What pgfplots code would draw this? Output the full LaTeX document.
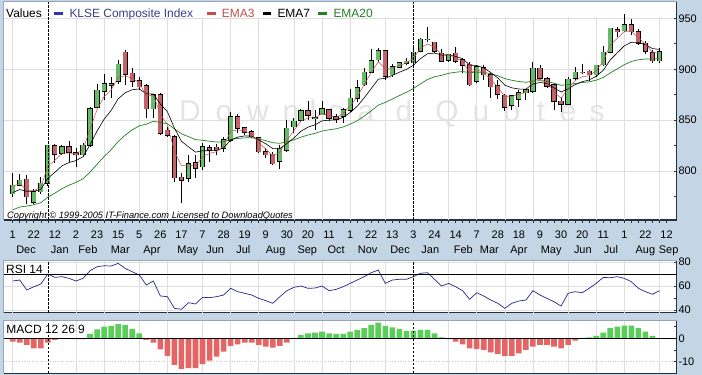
\documentclass[border=0pt]{standalone}
\usepackage{fontspec}
\setmainfont{Liberation Sans}
\usepackage{pgfplots}
\usepackage{pgfplotstable}
\pgfplotsset{compat=1.18}

\definecolor{bgblue}{RGB}{196,214,230}
\definecolor{gridgray}{RGB}{222,222,222}
\definecolor{framedark}{RGB}{40,48,64}
\definecolor{framelight}{RGB}{150,165,185}
\definecolor{candlegreen}{RGB}{102,187,102}
\definecolor{candlered}{RGB}{196,98,104}
\definecolor{emared}{RGB}{192,80,80}
\definecolor{emagreen}{RGB}{34,130,34}
\definecolor{macdgreen}{RGB}{90,205,90}
\definecolor{macdred}{RGB}{230,100,100}
\definecolor{rsiblue}{RGB}{40,40,140}
\definecolor{legblue}{RGB}{51,51,170}
\definecolor{legbluetext}{RGB}{60,60,140}
\definecolor{wmgray}{RGB}{228,228,228}

\pgfplotstableread{
i o h l c
0 778 798 775 786
1 786 797 785 791
3 769.5 783 768 780
4 780 794.5 778 788
5 788 826 785 825.5
7 817.5 825.6 815.8 824
10 816 827.3 814.2 825.5
11 825.5 863.2 824 861.5
12 863 886 861.6 879.5
13 878.5 895 869.8 886
14 884.5 892.7 871.4 885.5
15 888 909 886 905
20 861.5 875.3 851.8 875
25 793 815.8 789.6 807.5
27 804.5 827.3 801.1 824
30 822.5 833.8 819 830.5
31 830.5 857.7 828.9 853.5
38 809.5 825.6 802.1 822.5
39 820.5 850.2 819 842
40 843.5 851.8 837.1 849
41 850 860.6 848.5 859
43 852 860 840.3 852.5
44 855.5 868.8 855 861
47 854 862.3 846.9 860.5
48 860 880.6 858.3 871.5
49 871.5 889.4 867.5 882
50 885 900.9 883.9 897
51 897 919.5 896 908.5
52 909.5 920.5 907.4 918
54 894.5 904.8 892.7 902.5
55 902 907.4 900.9 906.5
56 906 910.7 904.1 908
57 906.5 920.5 904.1 916.5
58 918 930.3 916.6 929.5
59 929 941.5 927 929.5
62 909 914.6 907.4 914.5
66 888 904.1 886.1 902.5
71 865 874.6 859.8 874
72 870.5 879.5 863.1 877
73 877 881.1 870.3 880
74 878.5 906.7 876.9 901
79 865.5 892.6 864.8 890
80 891 902.5 889.3 897
83 894.5 904.1 892 904
84 904.5 922.8 903.4 916.5
85 917 940.2 915.6 940
87 938 954.3 936.2 943.5
92 908.5 920.5 906.4 917
}\upcandles

\pgfplotstableread{
i o h l c
2 792 796 768 775
6 825 827 807.6 816.5
8 824 830 809.3 818.5
9 818 822.4 804.4 816
16 916.5 919 884.5 895
17 896 901 883 888.5
18 888.5 892.7 879.6 883
19 883.5 886 851.8 861.5
21 875 876.3 835.4 837
22 840 843.6 833.8 835.5
23 834 835.4 789.6 793.5
24 794 797.8 768.4 791
26 808.5 815.8 792.9 803
28 823 825.6 809.3 820.5
29 823.5 827 815.8 821
32 853.5 855.7 837.1 842
33 842.5 843.6 835.4 838
34 838.5 840.3 832.2 834
35 833 833.8 817.5 819
36 819 823 813.2 816
37 816.5 819 806 807.5
42 859 868.8 850.2 855
45 860.5 861 849.2 852
46 853.5 855.7 846.9 851
53 918 918.9 889.4 893.5
60 926.5 927 915.6 918
61 915.5 919.8 907.4 908
63 915.5 922 905.8 908
64 909 910.7 896 904
65 905 907.4 883.9 885
67 901.5 904.1 889.4 894.5
68 894.5 896 871.4 883
69 884 889.4 870.8 875.5
70 874.5 875.7 859 863
75 901 904.1 889.3 891
76 890.5 892 882.1 883.5
77 884.5 886.1 859.8 868.5
78 868.5 873 858.2 865.5
81 897 905.3 895.2 896.5
82 898 899.2 888.4 894.5
86 939 941.8 931.3 937
88 943.5 949 933.6 937
89 937 939.2 923.8 925.5
90 925.5 928 914.9 918
91 916 918.9 906.4 908.5
}\downcandles

\pgfplotstableread{
i e3 e7 e20
0 785 779 762
1 788 782 764.8
2 781.5 780.3 765.8
3 780.8 780.2 767.1
4 784.4 782.2 769.1
5 805 793 774.5
6 810.7 798.9 778.5
7 817.4 805.2 782.8
8 817.9 808.5 786.2
9 817 810.4 789
10 821.2 814.2 792.5
11 841.4 826 799.1
12 860.4 839.4 806.8
13 873.2 851 814.3
14 879.4 859.6 821.1
15 892.2 871 829.1
16 893.6 877 835.4
17 891 879.9 840.5
18 887 880.7 844.5
19 874.3 875.9 846.1
20 874.6 875.7 848.9
21 855.8 866 847.8
22 845.7 858.4 846.6
23 819.6 842.2 841.5
24 805.3 829.4 836.7
25 806.4 823.9 833.9
26 804.7 818.7 831
27 814.3 820 830.3
28 817.4 820.1 829.4
29 819.2 820.3 828.6
30 824.9 822.9 828.8
31 839.2 830.5 831.1
32 840.6 833.4 832.1
33 839.3 834.6 832.7
34 836.6 834.4 832.8
35 827.8 830.6 831.5
36 821.9 826.9 830
37 814.7 822.1 827.9
38 818.6 822.2 827.4
39 830.3 827.1 828.8
40 839.7 832.6 830.7
41 849.3 839.2 833.4
42 852.2 843.2 835.5
43 852.3 845.5 837.1
44 856.7 849.4 839.4
45 854.3 850 840.6
46 852.7 850.3 841.6
47 856.6 852.8 843.4
48 864 857.5 846.1
49 873 863.6 849.5
50 885 872 854
51 896.8 881.1 859.2
52 907.4 890.3 864.8
53 900.4 891.1 867.5
54 901.5 894 870.8
55 904 897.1 874.2
56 906 899.8 877.4
57 911.2 904 881.1
58 920.4 910.4 885.7
59 924.9 915.2 889.9
60 921.5 915.9 892.6
61 914.7 913.9 894.1
62 914.6 914.1 896
63 911.3 912.6 897.1
64 907.7 910.4 897.8
65 896.3 904.1 896.6
66 899.4 903.7 897.2
67 897 901.4 896.9
68 890 896.8 895.6
69 882.7 891.5 893.7
70 872.9 884.4 890.8
71 873.4 881.8 889.2
72 875.2 880.6 888
73 877.6 880.5 887.2
74 889.3 885.6 888.5
75 890.2 887 888.7
76 886.8 886.1 888.2
77 877.7 881.7 886.3
78 871.6 877.7 884.3
79 880.8 880.8 884.8
80 888.9 884.9 886
81 892.7 887.8 887
82 893.6 889.5 887.7
83 898.8 893.1 889.3
84 907.7 899 891.9
85 923.8 909.2 896.5
86 930.4 916.2 900.4
87 937 923 904.5
88 937 926.5 907.6
89 931.2 926.3 909.3
90 924.6 924.2 910.1
91 916.6 920.3 910
92 916.8 919.5 910.7
}\ematable

\pgfplotstableread{
i rsi
0 64.2
1 65
2 56.7
3 59.4
4 61.7
5 70
6 67.2
7 67.8
8 66.4
9 64.2
10 66.4
11 72.8
12 76.1
13 76.9
14 76.7
15 78.9
16 74.7
17 71.9
18 69.2
19 60.8
20 64.2
21 51.7
22 51.1
23 41.4
24 40.6
25 46.1
26 45
27 50.6
28 50.3
29 51.1
30 52.5
31 58.1
32 55.3
33 53.9
34 52.5
35 49.7
36 47.8
37 45.6
38 51.1
39 56.1
40 58.9
41 60
42 58.1
43 58.3
44 60
45 56.1
46 57.2
47 59.4
48 62.2
49 65
50 67.8
51 71.1
52 73.3
53 62.2
54 65
55 65.6
56 65.6
57 67.8
58 70.6
59 71.1
60 65.6
61 60
62 62.2
63 59.4
64 56.1
65 48.9
66 54.4
67 51.7
68 48.3
69 45.6
70 41.4
71 45.6
72 47.5
73 48.3
74 56.1
75 52.5
76 49.7
77 46.9
78 43.3
79 53.9
80 55.3
81 54.4
82 58.1
83 62.2
84 67.2
85 66.9
86 67.8
87 66.4
88 63.6
89 58.1
90 55.3
91 53.1
92 56.1
}\rsitable

\pgfplotstableread{
i m
0 -1.4
1 -1.9
2 -2.8
3 -4.3
4 -4.3
5 -1.9
6 -0.7
7 0
8 0
9 -0.4
10 -0.4
11 1.9
12 3.8
13 5.0
14 5.3
15 6.0
16 5.7
17 4.0
18 2.1
19 -0.7
20 -1.9
21 -4.7
22 -7.5
23 -11.4
24 -13.1
25 -12.8
26 -12.8
27 -11.0
28 -9.5
29 -7.8
30 -5.7
31 -3.3
32 -2.6
33 -1.9
34 -1.9
35 -2.8
36 -3.6
37 -4.0
38 -3.3
39 -1.9
40 -0.3
41 1.4
42 2.1
43 2.4
44 2.8
45 2.1
46 1.9
47 1.9
48 2.8
49 3.6
50 4.3
51 5.7
52 6.7
53 5.3
54 4.6
55 4.0
56 3.1
57 3.3
58 3.6
59 3.6
60 2.1
61 0.4
62 -0.4
63 -1.4
64 -2.6
65 -4.3
66 -4.6
67 -5.0
68 -6.0
69 -6.8
70 -7.5
71 -7.5
72 -6.4
73 -5.0
74 -3.6
75 -2.8
76 -2.8
77 -3.6
78 -4.3
79 -2.8
80 -1.0
81 0.2
82 0.4
83 1.0
84 2.4
85 4.3
86 5.0
87 5.4
88 5.4
89 4.3
90 2.8
91 1.0
92 0
}\macdtable

\pgfplotsset{
  panel/.style={
    scale only axis, anchor=south west, width=673.2bp,
    xmin=-1.31, xmax=94.45,
    axis x line*=bottom, axis y line*=right,
    axis line style={draw=framedark, line width=1.1bp},
    tick align=inside,
    major tick length=3bp, minor tick length=3bp,
    tick style={draw=framedark, line width=0.6bp},
    every x tick/.append style={yshift=-3bp},
    yticklabel style={anchor=west, inner sep=0pt, xshift=1.6bp, font=\fontsize{11}{13}\selectfont},
    /pgf/number format/assume math mode=true,
    ymajorgrids, major grid style={draw=gridgray, line width=0.6bp},
    extra x ticks={0,9,13,18,22,27,31,35,40,44,48,53,62,66,70,74,79,83,87,92},
    extra x tick labels={},
    extra x tick style={xmajorgrids=true, major tick length=0pt},
    clip=false,
  },
  yeardash/.style={black, line width=0.6bp, dash pattern=on 2.5bp off 1.5bp, forget plot},
  candle/.style 2 args={draw=none, mark=none, forget plot, error bars/.cd, y dir=plus, y explicit, error mark=none,
    error bar style={line width=#1, draw=#2}},
}

\begin{document}
\begin{tikzpicture}
\useasboundingbox (0bp,0bp) rectangle (702bp,375bp);
\fill[bgblue] (0bp,0bp) rectangle (702bp,375bp);
\fill[white] (3.5bp,155bp) rectangle (676.7bp,373.3bp);
% watermark
\begin{scope}[every node/.style={font=\fontsize{30}{30}\selectfont, text=wmgray, anchor=base, inner sep=0pt}]
\node at (190bp,253bp) {D};
\node at (224bp,253bp) {o};
\node at (258bp,253bp) {w};
\node at (291bp,253bp) {n};
\node at (313bp,253bp) {l};
\node at (336bp,253bp) {o};
\node at (366bp,253bp) {a};
\node at (404bp,253bp) {d};
\node at (447bp,253bp) {Q};
\node at (481bp,253bp) {u};
\node at (512bp,253bp) {o};
\node at (541bp,253bp) {t};
\node at (568bp,253bp) {e};
\node at (597bp,253bp) {s};
\end{scope}

% ---------------- main panel ----------------
\begin{axis}[panel, at={(3.5bp,155bp)}, height=218.3bp,
  ymin=752.1, ymax=966.3,
  ytick={800,850,900,950}, minor ytick={775,825,875,925},
  xtick={0,3,...,93},
  xticklabels={1,22,12,2,23,15,5,26,17,7,28,19,9,30,20,11,1,22,13,3,24,14,7,28,18,9,30,20,11,1,22,12},
  minor x tick num=2,
  xticklabel style={anchor=base, inner sep=0pt, yshift=-18.3bp, font=\fontsize{11}{13}\selectfont},
]
\fill[white] (axis cs:-1.25,951) rectangle (axis cs:94.35,966.2);
% wicks
\addplot[candle={0.9bp}{black}]
  table[x=i, y=l, y error plus expr=\thisrow{h}-\thisrow{l}] {\upcandles};
\addplot[candle={0.9bp}{black}]
  table[x=i, y=l, y error plus expr=\thisrow{h}-\thisrow{l}] {\downcandles};
% body outlines
\addplot[candle={5.2bp}{black}]
  table[x=i, y expr=\thisrow{o}-0.6, y error plus expr=\thisrow{c}-\thisrow{o}+1.2] {\upcandles};
\addplot[candle={5.2bp}{black}]
  table[x=i, y expr=\thisrow{c}-0.6, y error plus expr=\thisrow{o}-\thisrow{c}+1.2] {\downcandles};
% body fills
\addplot[candle={3.8bp}{candlegreen}]
  table[x=i, y=o, y error plus expr=\thisrow{c}-\thisrow{o}] {\upcandles};
\addplot[candle={3.8bp}{candlered}]
  table[x=i, y=c, y error plus expr=\thisrow{o}-\thisrow{c}] {\downcandles};
% EMAs
\addplot[emagreen, line width=0.7bp, forget plot] table[x=i, y=e20] {\ematable};
\addplot[black, line width=0.6bp, forget plot] table[x=i, y=e7] {\ematable};
\addplot[emared, line width=0.5bp, forget plot] table[x=i, y=e3] {\ematable};
% year separators
\addplot[yeardash] coordinates {(5,752.1) (5,966.3)};
\addplot[yeardash] coordinates {(57,752.1) (57,966.3)};
% month names
\begin{scope}[every node/.style={anchor=base, inner sep=0pt, font=\fontsize{11}{13}\selectfont, yshift=-33.3bp}]
\node at (axis cs:1.9,752.1) {Dec};
\node at (axis cs:6.7,752.1) {Jan};
\node at (axis cs:10.7,752.1) {Feb};
\node at (axis cs:15.3,752.1) {Mar};
\node at (axis cs:19.8,752.1) {Apr};
\node at (axis cs:24.9,752.1) {May};
\node at (axis cs:28.8,752.1) {Jun};
\node at (axis cs:32.8,752.1) {Jul};
\node at (axis cs:37.4,752.1) {Aug};
\node at (axis cs:41.9,752.1) {Sep};
\node at (axis cs:46,752.1) {Oct};
\node at (axis cs:50.5,752.1) {Nov};
\node at (axis cs:55.1,752.1) {Dec};
\node at (axis cs:59.4,752.1) {Jan};
\node at (axis cs:64.1,752.1) {Feb};
\node at (axis cs:67.8,752.1) {Mar};
\node at (axis cs:72,752.1) {Apr};
\node at (axis cs:76.6,752.1) {May};
\node at (axis cs:81.1,752.1) {Jun};
\node at (axis cs:85.1,752.1) {Jul};
\node at (axis cs:90.0,752.1) {Aug};
\node at (axis cs:93.3,752.1) {Sep};
\end{scope}
\draw[framelight, line width=0.8bp] (rel axis cs:0,0) -- (rel axis cs:0,1) -- (rel axis cs:1,1);
\end{axis}

% ---------------- RSI panel ----------------
\begin{axis}[panel, at={(3.5bp,62.3bp)}, height=52.7bp,
  ymin=37.75, ymax=81.7,
  ytick={40,60,80}, minor ytick={50,70},
  xtick=\empty,
  axis background/.style={fill=white},
]
\addplot[rsiblue, line width=0.7bp, forget plot] table[x=i, y=rsi] {\rsitable};
\addplot[black, line width=0.7bp, forget plot] coordinates {(-1.31,70) (94.45,70)};
\addplot[yeardash] coordinates {(5,37.75) (5,81.7)};
\addplot[yeardash] coordinates {(57,37.75) (57,81.7)};
\draw[framelight, line width=0.8bp] (rel axis cs:0,0) -- (rel axis cs:0,1) -- (rel axis cs:1,1);
\end{axis}

% ---------------- MACD panel ----------------
\begin{axis}[panel, at={(3.5bp,1.7bp)}, height=53.3bp,
  ymin=-14.96, ymax=7.8,
  ytick={-10,0}, minor ytick={-15,-5,5},
  major grid style={draw=gray!45, line width=0.6bp, dotted},
  extra x tick style={xmajorgrids=true, major tick length=0pt, major grid style={draw=gridgray, line width=0.6bp, solid}},
  xtick=\empty,
  axis background/.style={fill=white},
]
\addplot[ybar, bar width=5.6bp, bar shift=0pt, fill=macdgreen, draw=none, forget plot,
  restrict y to domain=0:100] table[x=i, y=m] {\macdtable};
\addplot[ybar, bar width=5.6bp, bar shift=0pt, fill=macdred, draw=none, forget plot,
  restrict y to domain=-100:0] table[x=i, y=m] {\macdtable};
\addplot[black, line width=0.7bp, forget plot] coordinates {(-1.31,0) (94.45,0)};
\addplot[yeardash] coordinates {(5,-14.96) (5,7.8)};
\addplot[yeardash] coordinates {(57,-14.96) (57,7.8)};
\draw[framelight, line width=0.8bp] (rel axis cs:0,0) -- (rel axis cs:0,1) -- (rel axis cs:1,1);
\end{axis}

% ---------------- texts ----------------
\begin{scope}[every node/.style={anchor=base west, inner sep=0pt, font=\fontsize{12}{14}\selectfont}]
\node at (6bp,357.7bp) {Values};
\fill[legblue] (54.3bp,360bp) rectangle (63.3bp,363.3bp);
\node[text=legbluetext] at (69.3bp,357.7bp) {KLSE Composite Index};
\fill[emared] (206.7bp,360bp) rectangle (216bp,363.3bp);
\node[text=emared] at (221.7bp,357.7bp) {EMA3};
\fill[black] (262.7bp,360bp) rectangle (270.7bp,363.3bp);
\node at (277.3bp,357.7bp) {EMA7};
\fill[emagreen] (318.3bp,360bp) rectangle (326.7bp,363.3bp);
\node[text=emagreen] at (333.3bp,357.7bp) {EMA20};
\node at (6bp,101.7bp) {RSI 14};
\node at (6.3bp,41bp) {MACD 12 26 9};
\end{scope}
\node[anchor=base west, inner sep=0pt, font=\fontsize{9.3}{10}\selectfont\itshape] at (7bp,156.5bp)
  {Copyright \textcopyright{} 1999-2005 IT-Finance.com Licensed to DownloadQuotes};
\end{tikzpicture}
\end{document}
